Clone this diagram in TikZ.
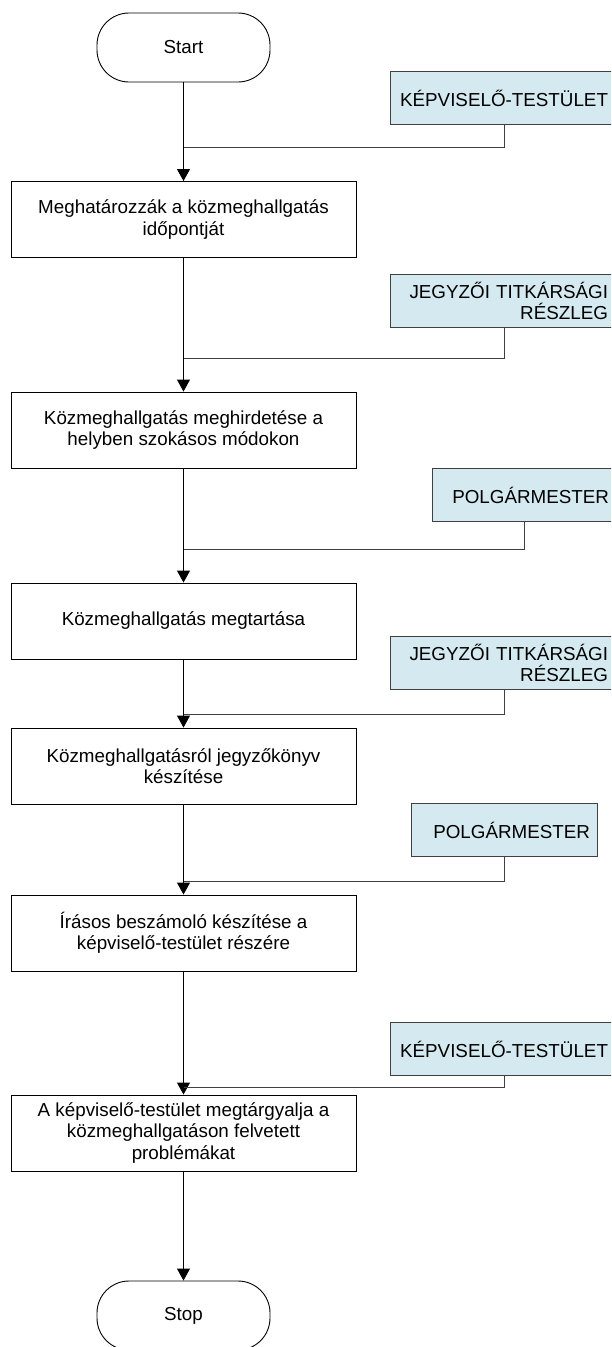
\documentclass[tikz,border=0pt]{standalone}
\usepackage{fontspec}
\setmainfont{Liberation Sans}
\usetikzlibrary{arrows.meta}
\definecolor{sidefill}{RGB}{213,234,240}
\definecolor{sideline}{RGB}{64,64,64}
\begin{document}
\begin{tikzpicture}[x=1pt,y=-1pt,
  txt/.style={font=\fontsize{18.8}{21.5}\selectfont},
  terminal/.style={txt,draw,rounded corners=32pt,minimum width=173pt,minimum height=69pt,line width=0.9pt},
  process/.style={txt,draw,minimum width=345pt,minimum height=76pt,align=center,line width=0.9pt},
  actor/.style={txt,draw=sideline,fill=sidefill,anchor=north,minimum height=53pt,align=right,line width=0.9pt},
  wideactor/.style={actor,minimum width=228pt,text width=208pt,inner xsep=10pt},
  flow/.style={line width=0.9pt,-{Triangle[width=13pt,length=12pt]}},
  link/.style={line width=0.9pt,draw=sideline}]
\useasboundingbox (0,0) rectangle (611,1347);
\clip (0,0) rectangle (611,1347);

% main column
\node[terminal] (start) at (183.5,47.5) {Start};
\node[process] (p1) at (183.5,219.5) {Meghatározzák a közmeghallgatás\\időpontját};
\node[process] (p2) at (183.5,430) {Közmeghallgatás meghirdetése a\\helyben szokásos módokon};
\node[process] (p3) at (183.5,621) {Közmeghallgatás megtartása};
\node[process] (p4) at (183.5,766) {Közmeghallgatásról jegyzőkönyv\\készítése};
\node[process] (p5) at (183.5,933) {Írásos beszámoló készítése a\\képviselő-testület részére};
\node[process] (p6) at (183.5,1133) {A képviselő-testület megtárgyalja a\\közmeghallgatáson felvetett\\problémákat};
\node[terminal] (stop) at (183.5,1315.5) {Stop};

% responsible parties
\node[wideactor] (a1) at (504,71) {KÉPVISELŐ-TESTÜLET};
\node[wideactor] (a2) at (504,274) {JEGYZŐI TITKÁRSÁGI\\RÉSZLEG};
\node[actor,minimum width=184pt,text width=170pt,inner xsep=7pt] (a3) at (524,468) {POLGÁRMESTER};
\node[wideactor] (a4) at (504,636) {JEGYZŐI TITKÁRSÁGI\\RÉSZLEG};
\node[actor,minimum width=186pt,text width=172pt,inner xsep=7pt] (a5) at (504,803) {POLGÁRMESTER};
\node[wideactor] (a6) at (504,1022) {KÉPVISELŐ-TESTÜLET};

% junctions on the main flow line
\coordinate (j1) at (183.5,147);
\coordinate (j2) at (183.5,358);
\coordinate (j3) at (183.5,549);
\coordinate (j4) at (183.5,714);
\coordinate (j5) at (183.5,881);
\coordinate (j6) at (183.5,1087);

% main flow
\draw[flow] (start) -- (p1);
\draw[flow] (p1) -- (p2);
\draw[flow] (p2) -- (p3);
\draw[flow] (p3) -- (p4);
\draw[flow] (p4) -- (p5);
\draw[flow] (p5) -- (p6);
\draw[flow] (p6) -- (stop);

% party links
\draw[link] (a1.south) |- (j1);
\draw[link] (a2.south) |- (j2);
\draw[link] (a3.south) |- (j3);
\draw[link] (a4.south) |- (j4);
\draw[link] (a5.south) |- (j5);
\draw[link] (a6.south) |- (j6);
\end{tikzpicture}
\end{document}
